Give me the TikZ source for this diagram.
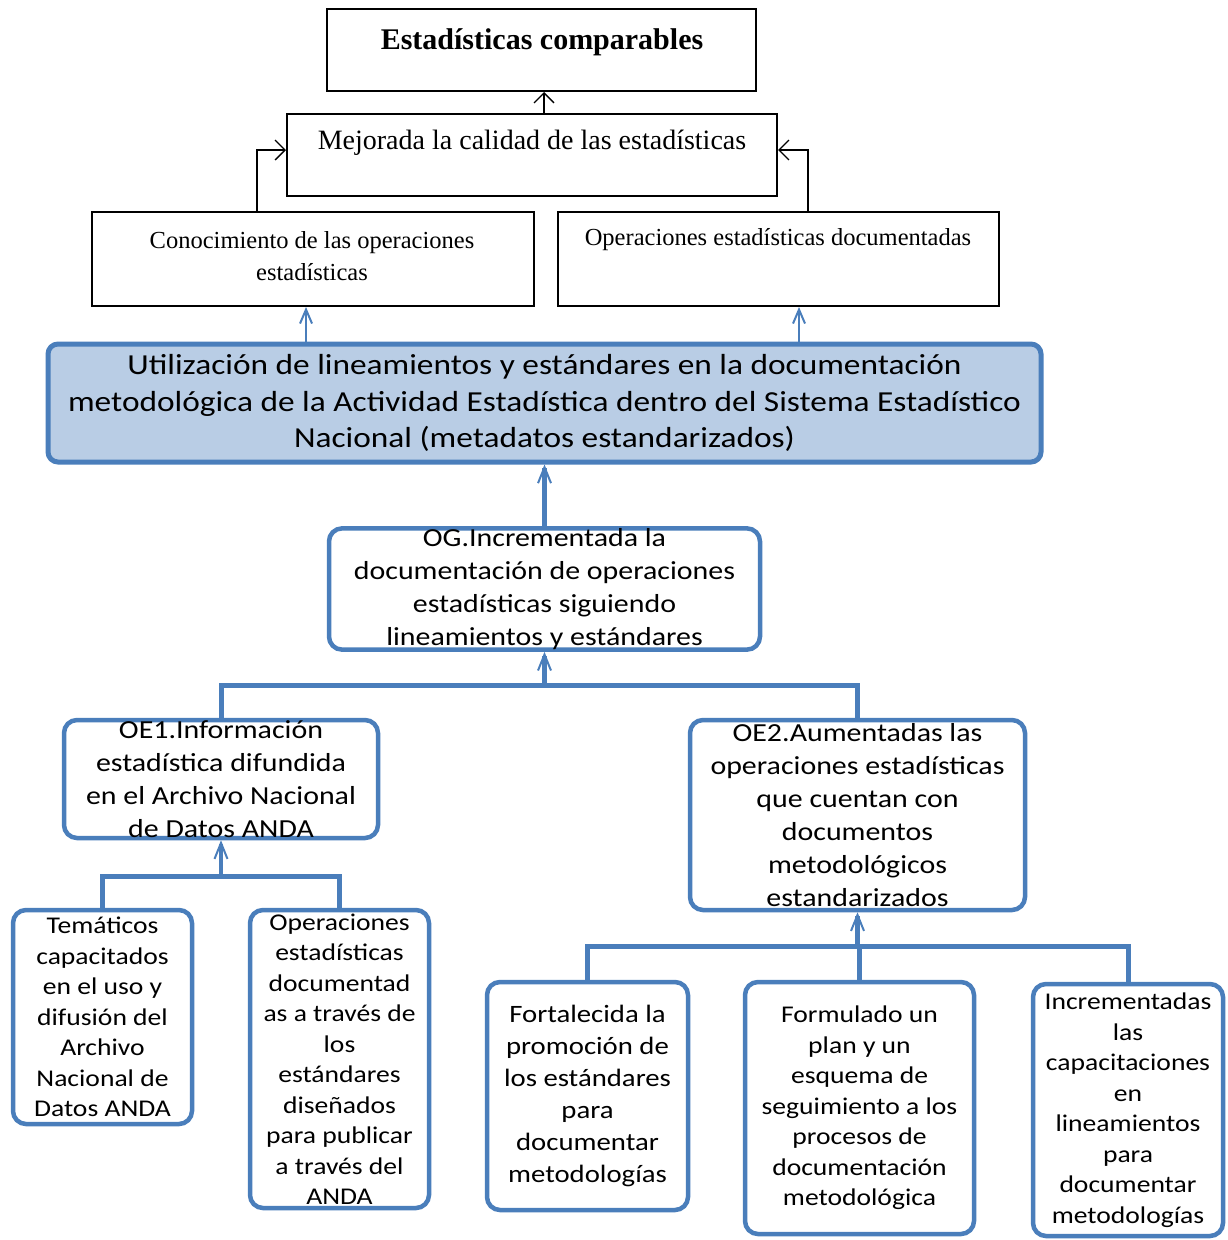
\documentclass[tikz,border=0pt]{standalone}
\usepackage{fontspec}
\setmainfont{Liberation Serif}
\newfontfamily\carl[FakeStretch=1.15]{Carlito}
\usetikzlibrary{arrows.meta,calc}
\definecolor{bl}{HTML}{4A7EBB}
\definecolor{bfill}{HTML}{B9CDE5}
\begin{document}
\begin{tikzpicture}[x=1pt,y=-1pt,
  kbox/.style={draw=black, line width=2pt, inner sep=0pt},
  ktext/.style={inner sep=0pt, align=center},
  bbox/.style={draw=bl, line width=4.5pt, rounded corners=13pt, fill=white, inner sep=0pt, align=center},
  mainbox/.style={bbox, fill=bfill, line width=5pt, rounded corners=10pt},
  karrow/.style={draw=black, line width=1.3pt, -{Straight Barb[length=10pt,width=20pt,line width=1.3pt]}},
  thinarr/.style={draw=bl, line width=2pt, -{Straight Barb[length=14pt,width=12pt,line width=2pt]}},
  thickarr/.style={draw=bl, line width=4.5pt, -{Straight Barb[length=16pt,width=13pt,line width=2pt]}},
  tree/.style={draw=bl, line width=5pt},
  cf/.style={font=\carl\fontsize{26}{33}\selectfont},
  sf/.style={font=\carl\fontsize{24}{30.5}\selectfont}
]
\useasboundingbox (0,0) rectangle (1228,1240);

% black boxes
\node[kbox, minimum width=429pt, minimum height=82pt] (b1) at (541.5,50) {};
\node[ktext, font=\bfseries\fontsize{30}{34}\selectfont] (t1) at (542,42) {Estadísticas comparables};
\node[kbox, minimum width=490pt, minimum height=82pt] (b2) at (532,155) {};
\node[ktext, font=\fontsize{28}{32}\selectfont] (t2) at (532,143) {Mejorada la calidad de las estadísticas};
\node[kbox, minimum width=442pt, minimum height=94pt] (b3) at (313,259) {};
\node[ktext, font=\fontsize{24.5}{32}\selectfont] (t3) at (312,256) {Conocimiento de las operaciones\\estadísticas};
\node[kbox, minimum width=441pt, minimum height=94pt] (b4) at (778.5,259) {};
\node[ktext, font=\fontsize{24.5}{32}\selectfont] (t4) at (778,240) {Operaciones estadísticas documentadas};

\coordinate (x544) at (544,0);
\coordinate (x257) at (257,0);
\coordinate (x808) at (808,0);
\coordinate (y150) at (0,150);
\coordinate (x306) at (306,0);
\coordinate (x799) at (799,0);

\draw[karrow] (b2.north -| x544) -- (b1.south -| x544);
\draw[karrow] (b3.north -| x257) |- (b2.west |- y150);
\draw[karrow] (b4.north -| x808) |- (b2.east |- y150);

% main box
\node[mainbox, minimum width=993pt, minimum height=118pt, font=\carl\fontsize{29}{36.5}\selectfont] (m) at (544.5,403)
 {Utilización de lineamientos y estándares en la documentación\\metodológica de la Actividad Estadística dentro del Sistema Estadístico\\Nacional (metadatos estandarizados)};

\draw[thinarr] (m.north -| x306) -- (b3.south -| x306);
\draw[thinarr] (m.north -| x799) -- (b4.south -| x799);

% OG
\node[bbox, cf, minimum width=431pt, minimum height=120pt] (og) at (544.5,589)
 {OG.Incrementada la\\documentación de operaciones\\estadísticas siguiendo\\lineamientos y estándares};
\draw[thickarr] (og.north) -- (m.south);

% OE1 / OE2
\node[bbox, cf, minimum width=314pt, minimum height=118pt] (oe1) at (221,779)
 {OE1.Información\\estadística difundida\\en el Archivo Nacional\\de Datos ANDA};
\node[bbox, cf, minimum width=335pt, minimum height=190pt] (oe2) at (857.5,815)
 {OE2.Aumentadas las\\operaciones estadísticas\\que cuentan con\\documentos\\metodológicos\\estandarizados};

\coordinate (j1) at (544.5,685);
\draw[tree] (oe1.north) |- (j1) -| (oe2.north);
\draw[thickarr] (j1) -- (og.south);

% OE1 children
\node[bbox, sf, minimum width=179pt, minimum height=214pt] (ca) at (102.5,1017)
 {Temáticos\\capacitados\\en el uso y\\difusión del\\Archivo\\Nacional de\\Datos ANDA};
\node[bbox, sf, minimum width=179pt, minimum height=298pt] (cb) at (339.5,1059)
 {Operaciones\\estadísticas\\documentad\\as a través de\\los\\estándares\\diseñados\\para publicar\\a través del\\ANDA};
\coordinate (j2) at (221,876);
\draw[tree] (ca.north) |- (j2) -| (cb.north);
\draw[thickarr] (j2) -- (oe1.south);

% OE2 children
\node[bbox, font=\carl\fontsize{25}{32}\selectfont, minimum width=201pt, minimum height=228pt] (cc) at (587.5,1096)
 {Fortalecida la\\promoción de\\los estándares\\para\\documentar\\metodologías};
\node[bbox, sf, minimum width=229pt, minimum height=252pt] (cd) at (859.5,1108)
 {Formulado un\\plan y un\\esquema de\\seguimiento a los\\procesos de\\documentación\\metodológica};
\node[bbox, sf, minimum width=190pt, minimum height=252pt] (ce) at (1128,1110)
 {Incrementadas\\las\\capacitaciones\\en\\lineamientos\\para\\documentar\\metodologías};
\coordinate (j3) at (857.5,946);
\draw[tree] (cc.north) |- (j3) -| (ce.north);
\draw[tree] (cd.north) -- (cd.north |- j3);
\draw[thickarr] (j3) -- (oe2.south);
\end{tikzpicture}
\end{document}
